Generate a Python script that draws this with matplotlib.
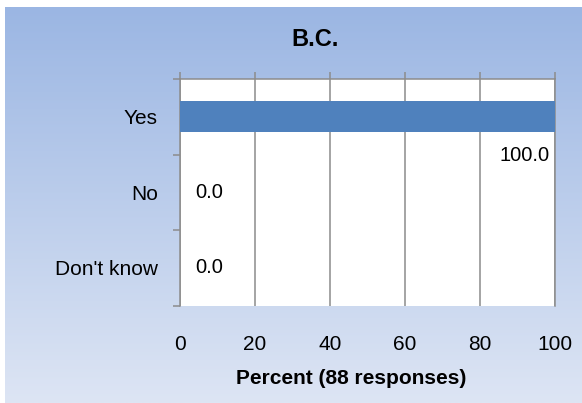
import numpy as np
import matplotlib
matplotlib.use("Agg")
import matplotlib.pyplot as plt
from matplotlib.colors import LinearSegmentedColormap

categories = ["Yes", "No", "Don't know"]
values = [100.0, 0.0, 0.0]
xticks = [0, 20, 40, 60, 80, 100]
title = "B.C."
xlabel = "Percent (88 responses)"

plt.rcParams['font.family'] = ['Liberation Sans', 'DejaVu Sans']

W, H = 582, 403
fig = plt.figure(figsize=(W / 100, H / 100), dpi=100)
fig.patch.set_facecolor('white')

# gradient background panel
bg = fig.add_axes([5 / W, 0, (W - 5) / W, (H - 7) / H])
cmap = LinearSegmentedColormap.from_list('bg', ['#9bb6e3', '#dde5f4'])
grad = np.linspace(0, 1, 256).reshape(-1, 1)
bg.imshow(grad, aspect='auto', cmap=cmap, extent=[0, 1, 1, 0])
bg.set_axis_off()

ax = fig.add_axes([180 / W, 1 - 305.5 / H, (555 - 180) / W, (305.5 - 79) / H])
ax.set_facecolor('white')
ypos = np.arange(len(categories))
ax.barh(ypos, values, height=0.41, color='#4f81bd', zorder=3)
ax.set_xlim(0, 100)
ax.set_ylim(len(categories) - 0.5, -0.5)

gray = '#8c8c8c'
ax.set_xticks(xticks)
ax.set_xticklabels([str(t) for t in xticks], fontsize=15)
ax.xaxis.grid(True, color=gray, linewidth=1.1, zorder=1)
ax.set_axisbelow(True)
ax.tick_params(axis='x', bottom=False, top=True, labelbottom=True, labeltop=False,
               direction='out', length=5, width=1.1, color=gray, pad=16)

ax.set_yticks(ypos)
ax.set_yticklabels(categories, fontsize=15)
ax.set_yticks(np.arange(len(categories) + 1) - 0.5, minor=True)
ax.tick_params(axis='y', which='major', length=0, pad=16)
ax.tick_params(axis='y', which='minor', length=5, width=1.1, color=gray, direction='out')

for s in ['left', 'top', 'right']:
    ax.spines[s].set_color(gray)
    ax.spines[s].set_linewidth(1.1)
ax.spines['bottom'].set_visible(False)

for y, v in zip(ypos, values):
    if v >= 100:
        ax.annotate(f"{v:.1f}", (v, y), xytext=(-4, -28), textcoords='offset points',
                    ha='right', va='center', fontsize=14.5, zorder=4)
    else:
        ax.annotate(f"{v:.1f}", (v, y), xytext=(11, 0), textcoords='offset points',
                    ha='left', va='center', fontsize=14.5, zorder=4)

fig.text(315 / W, 1 - 39 / H, title, ha='center', va='center', fontsize=17, fontweight='bold')
fig.text(351.5 / W, 1 - 378 / H, xlabel, ha='center', va='center', fontsize=15, fontweight='bold')

fig.savefig('out.png', dpi=100)
